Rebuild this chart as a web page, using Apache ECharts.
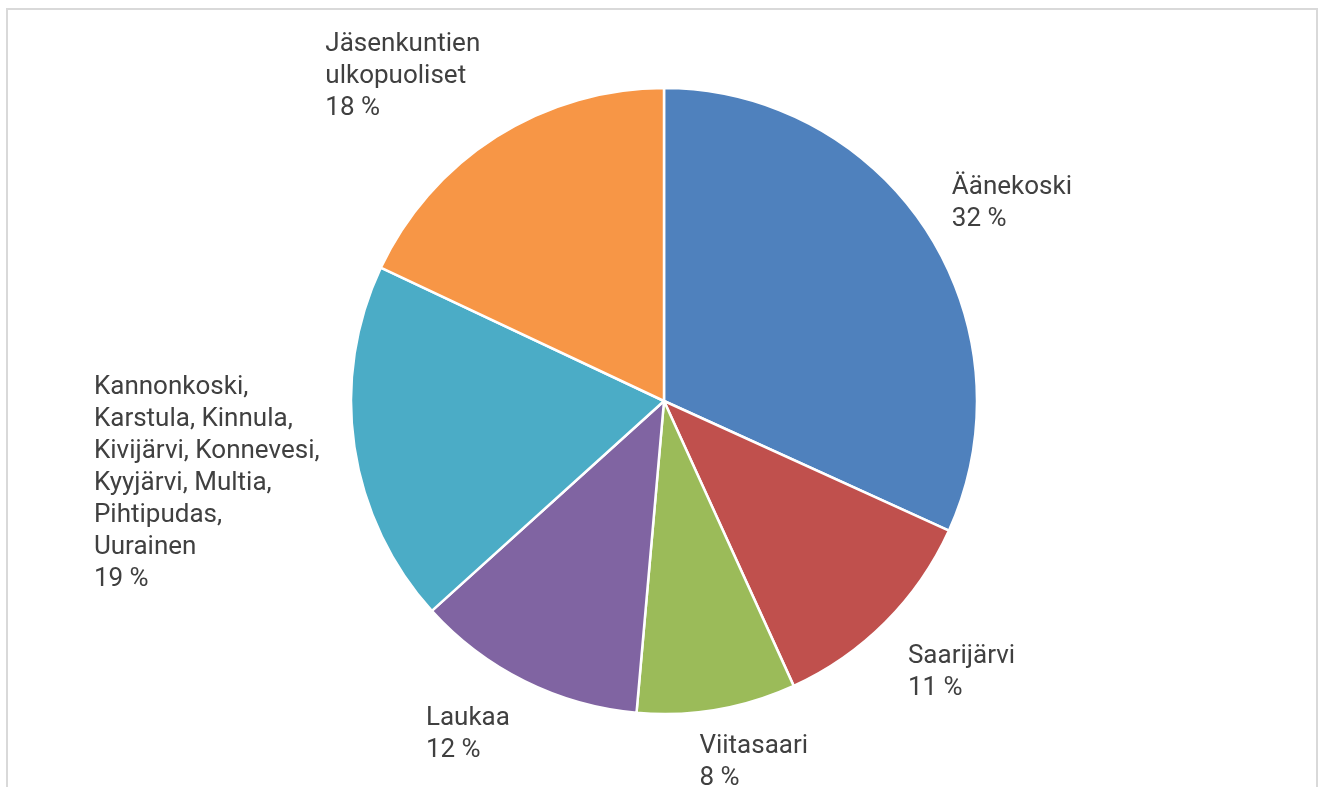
<!DOCTYPE html>
<html>
<head>
<meta charset="utf-8">
<script src="https://cdn.jsdelivr.net/npm/echarts@6/dist/echarts.min.js"></script>
<style>
  html, body { margin: 0; padding: 0; background: #fff; }
  #frame { position: absolute; left: 6px; top: 8px; width: 1312px; height: 800px; border: 2px solid #d9d9d9; box-sizing: border-box; }
  #chart { position: absolute; left: 0; top: 0; width: 1325px; height: 787px; }
</style>
</head>
<body>
<div id="frame"></div>
<div id="chart"></div>
<script>
// alueet (myötäpäivään klo 12:sta)
var categories = [
  'Äänekoski',
  'Saarijärvi',
  'Viitasaari',
  'Laukaa',
  'Kannonkoski,\nKarstula, Kinnula,\nKivijärvi, Konnevesi,\nKyyjärvi, Multia,\nPihtipudas,\nUurainen',
  'Jäsenkuntien\nulkopuoliset'
];
var shares = [31.8, 11.4, 8.2, 11.9, 18.7, 18.0];
var colors = ['#4F81BD', '#C0504D', '#9BBB59', '#8064A2', '#4BACC6', '#F79646'];

// tekstien siirrot (px) oletuspaikasta
var labelShiftX = [7, 7, -25, -3, -15, -3];
var labelShiftY = [-20, 40, 38, 40, 34, -48];

var myChart = echarts.init(document.getElementById('chart'), null, { renderer: 'canvas' });

var option = {
  color: colors,
  animation: false,
  series: [
    {
      type: 'pie',
      center: [664, 401],
      radius: [0, 313],
      startAngle: 90,
      clockwise: true,
      itemStyle: {
        borderColor: '#fff',
        borderWidth: 2.5
      },
      label: {
        show: true,
        position: 'outside',
        color: '#404040',
        fontFamily: 'Roboto, "Liberation Sans", sans-serif',
        fontSize: 26,
        lineHeight: 32,
        formatter: function (p) {
          return p.name + '\n' + Math.round(p.value) + ' %';
        }
      },
      labelLine: { show: false, length: 15, length2: 0 },
      labelLayout: function (params) {
        var r = params.labelRect;
        var i = params.dataIndex;
        return {
          x: r.x + labelShiftX[i],
          y: r.y + labelShiftY[i],
          align: 'left',
          verticalAlign: 'top',
          moveOverlap: null
        };
      },
      data: categories.map(function (c, i) {
        return { name: c, value: shares[i] };
      })
    }
  ]
};

myChart.setOption(option, true);
window.addEventListener('resize', function () {
  myChart.resize();
});
</script>
</body>
</html>
